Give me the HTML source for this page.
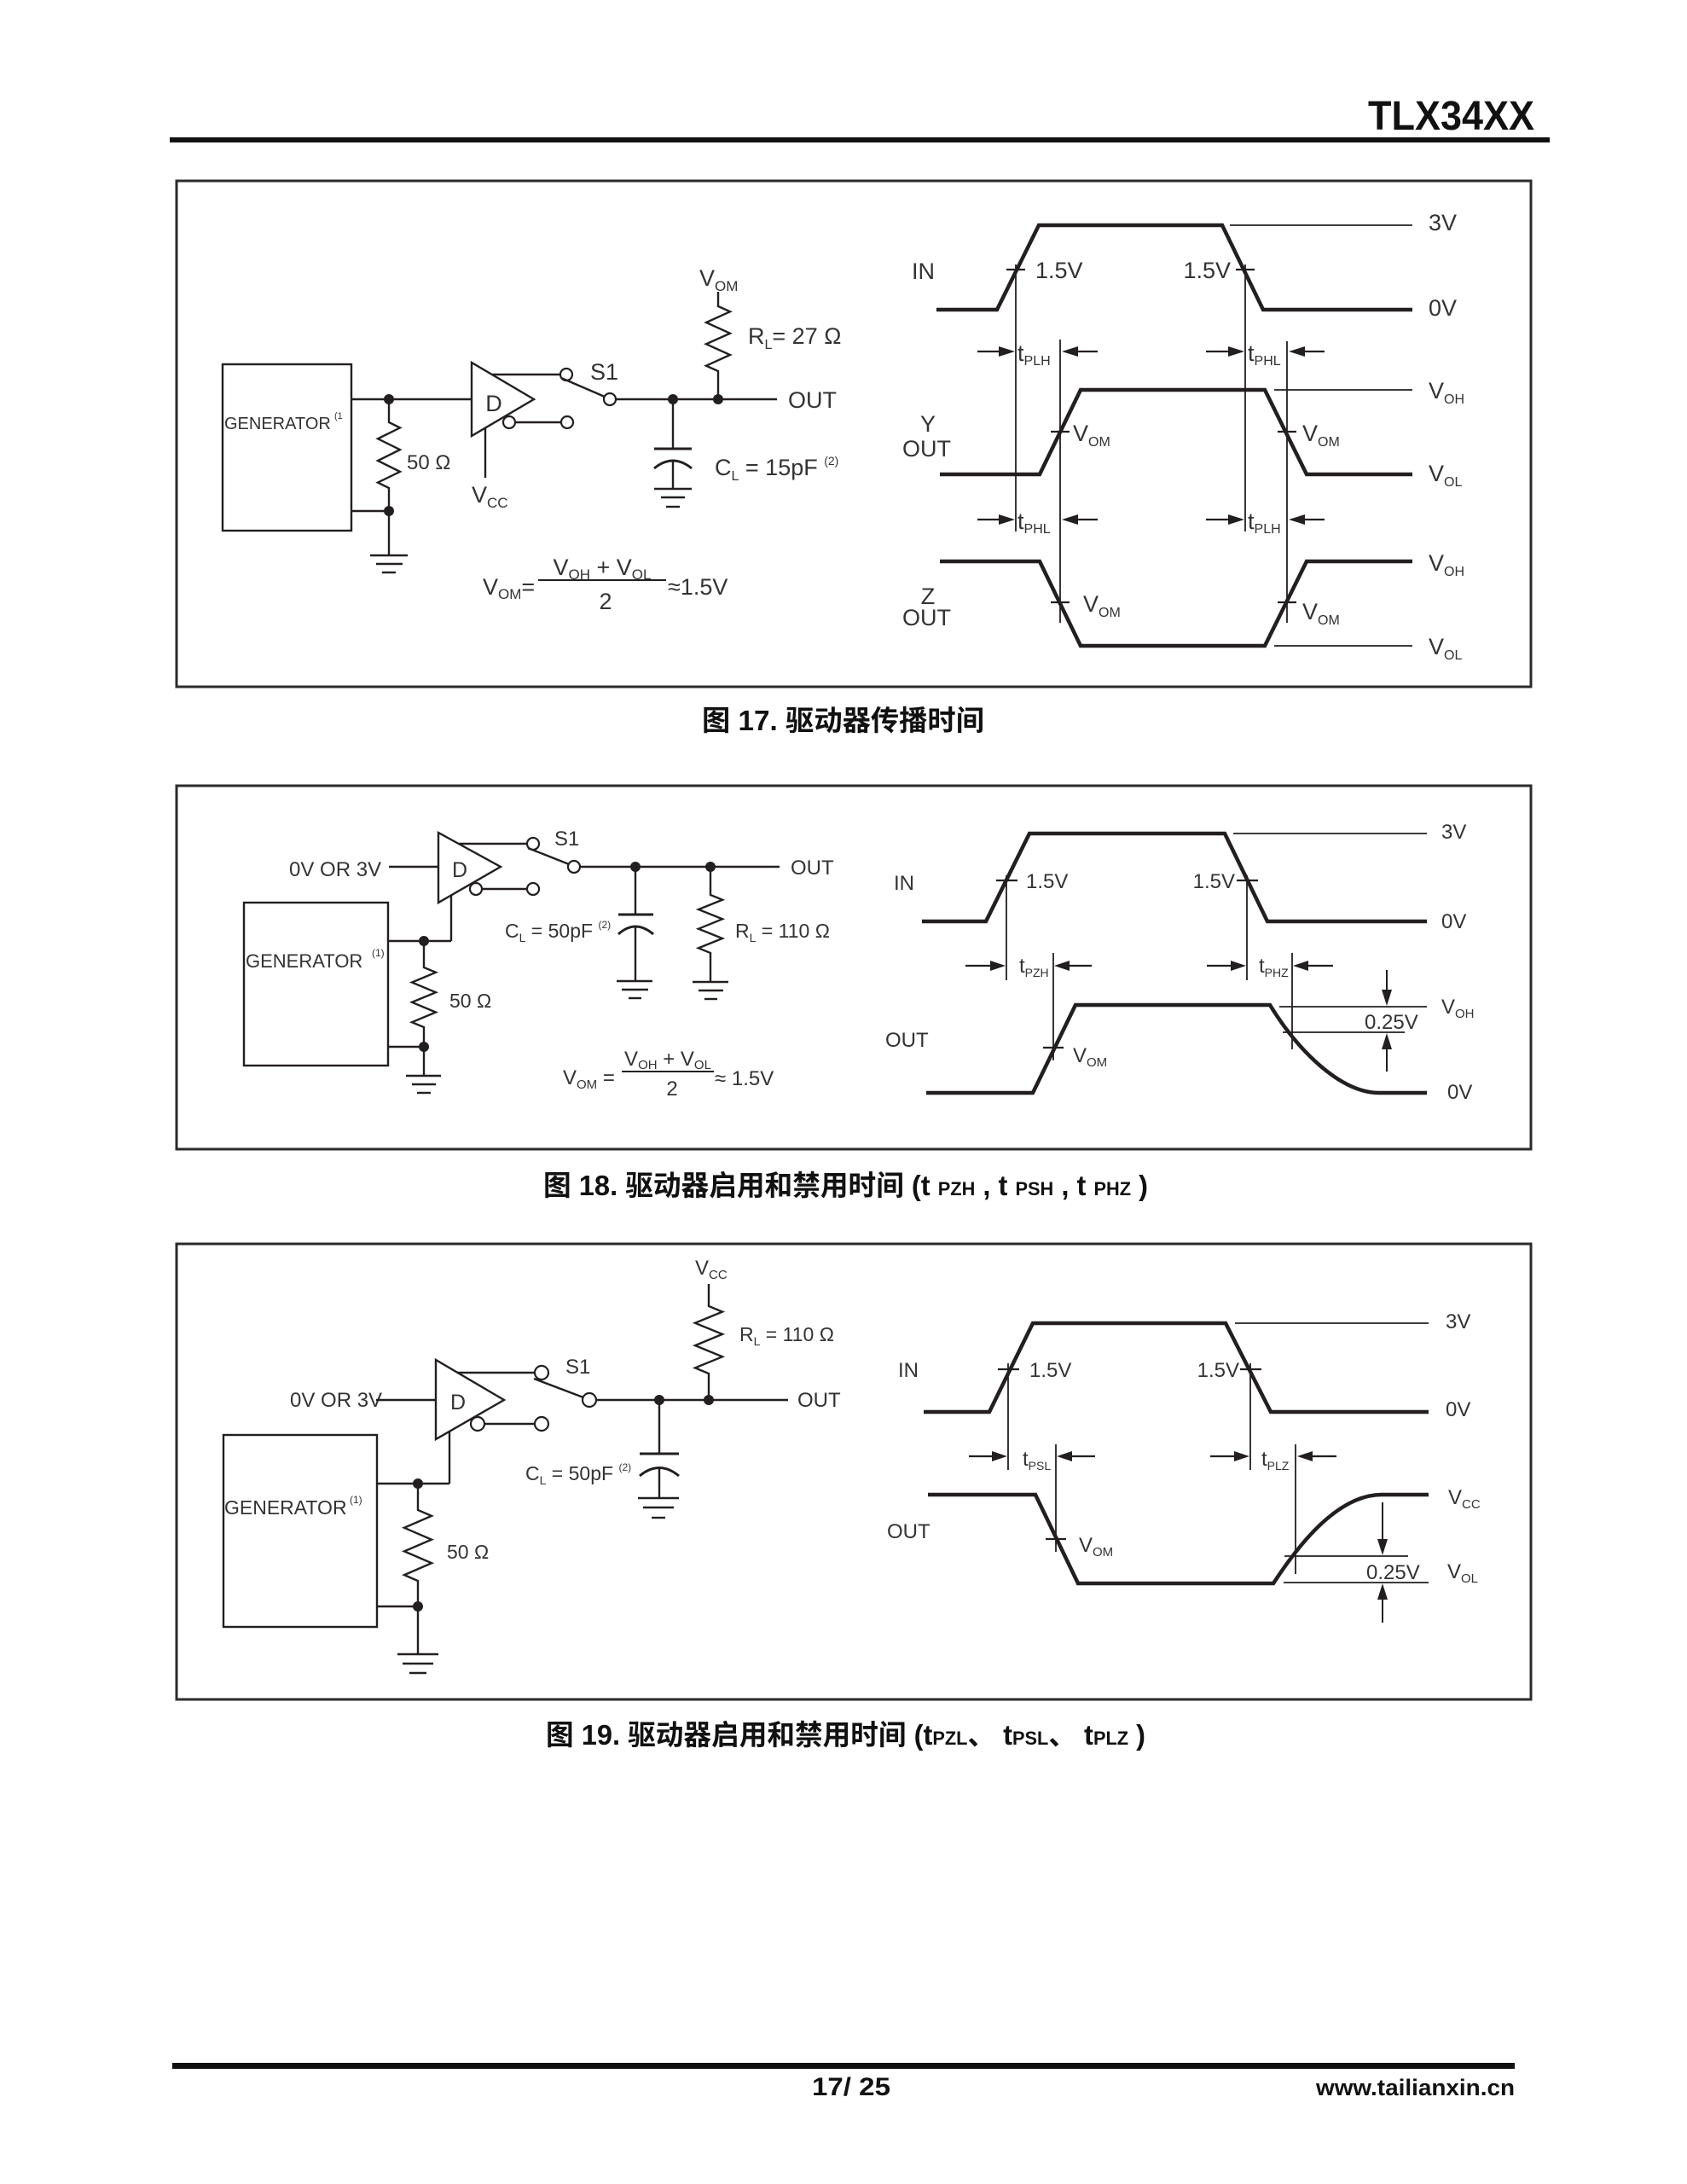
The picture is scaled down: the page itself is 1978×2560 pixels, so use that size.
<!DOCTYPE html>
<html>
<head>
<meta charset="utf-8">
<style>
html,body{margin:0;padding:0;background:#fff;}
svg{display:block;}
.t{font-family:"Liberation Sans","Noto Sans CJK SC",sans-serif;fill:#333;}
.w{stroke:#231f20;stroke-width:2.4;fill:none;}
.th{stroke:#231f20;stroke-width:1.8;fill:none;}
.wv{stroke:#231f20;stroke-width:4.5;fill:none;stroke-linejoin:miter;}
.fr{stroke:#2d2a2b;stroke-width:3;fill:none;}
.dot{fill:#231f20;}
.ah{fill:#231f20;}
.oc{stroke:#231f20;stroke-width:2.2;fill:#fff;}
.cap{font-family:"Liberation Sans","Noto Sans CJK SC",sans-serif;font-weight:bold;fill:#111;}
</style>
</head>
<body>
<svg width="1978" height="2560" viewBox="0 0 1978 2560" xmlns="http://www.w3.org/2000/svg">
<rect x="0" y="0" width="1978" height="2560" fill="#fff"/>

<!-- HEADER -->
<text x="1604" y="152" class="t" style="font-weight:bold;fill:#111" font-size="48" textLength="195" lengthAdjust="spacingAndGlyphs">TLX34XX</text>
<rect x="199" y="161" width="1618" height="6" fill="#111"/>

<!-- ================= FIGURE 17 ================= -->
<rect x="207" y="212" width="1588" height="593" class="fr"/>

<!-- generator -->
<rect x="261" y="427" width="151" height="195" class="w"/>
<text x="263" y="503" class="t" font-size="20">GENERATOR</text>
<text x="392" y="491" class="t" font-size="11">(1</text>
<line x1="412" y1="468" x2="553" y2="468" class="w"/>
<circle cx="456" cy="468" r="6" class="dot"/>
<polyline points="456,468 456,495 469,501.4 443,514.3 469,527.1 443,540 469,552.9 443,565.6 456,572 456,599" class="w"/>
<line x1="412" y1="599" x2="456" y2="599" class="w"/>
<circle cx="456" cy="599" r="6" class="dot"/>
<line x1="456" y1="599" x2="456" y2="651" class="w"/>
<line x1="434" y1="651" x2="478" y2="651" class="w"/>
<line x1="441" y1="661" x2="472" y2="661" class="w"/>
<line x1="448" y1="671" x2="464" y2="671" class="w"/>
<text x="477" y="550" class="t" font-size="24">50 Ω</text>

<!-- driver -->
<polygon points="553,425 553,511 626,468" class="w" style="fill:#fff"/>
<text x="579" y="482" class="t" font-size="27" text-anchor="middle">D</text>
<line x1="577" y1="439" x2="657" y2="439" class="w"/>
<circle cx="664" cy="439" r="7" class="oc"/>
<line x1="604" y1="495" x2="658" y2="495" class="w"/>
<circle cx="597" cy="495" r="7" class="oc"/>
<circle cx="665" cy="495" r="7" class="oc"/>
<line x1="569" y1="502" x2="569" y2="560" class="w"/>
<text x="553" y="589" class="t" font-size="27">V<tspan font-size="17" dy="6">CC</tspan></text>

<!-- switch -->
<line x1="658" y1="443" x2="709" y2="465" class="w"/>
<circle cx="715" cy="468" r="7" class="oc"/>
<text x="692" y="445" class="t" font-size="27">S1</text>
<line x1="722" y1="468" x2="911" y2="468" class="w"/>
<circle cx="789" cy="468" r="6" class="dot"/>
<circle cx="842" cy="468" r="6" class="dot"/>
<text x="924" y="478" class="t" font-size="27">OUT</text>

<!-- capacitor -->
<line x1="789" y1="468" x2="789" y2="526" class="w"/>
<line x1="767" y1="526" x2="811" y2="526" class="w" style="stroke-width:3"/>
<path d="M767,549 Q789,531 811,549" class="w" style="stroke-width:3"/>
<line x1="789" y1="540" x2="789" y2="573" class="w"/>
<line x1="767" y1="573" x2="811" y2="573" class="w"/>
<line x1="775" y1="583" x2="803" y2="583" class="w"/>
<line x1="781" y1="594" x2="797" y2="594" class="w"/>
<text x="838" y="557" class="t" font-size="27">C<tspan font-size="16" dy="6">L</tspan><tspan dy="-6"> = 15pF </tspan><tspan font-size="14" dy="-12">(2)</tspan></text>

<!-- RL -->
<text x="820" y="335" class="t" font-size="27">V<tspan font-size="17" dy="6">OM</tspan></text>
<polyline points="842,342 842,359 856,365.3 828,378 856,390.7 828,403.3 856,416 828,428.7 842,435 842,468" class="w"/>
<text x="877" y="403" class="t" font-size="27">R<tspan font-size="16" dy="6">L</tspan><tspan dy="-6">= 27 Ω</tspan></text>

<!-- formula -->
<text x="566" y="697" class="t" font-size="27">V<tspan font-size="17" dy="5">OM</tspan><tspan dy="-5">=</tspan></text>
<line x1="631" y1="680" x2="781" y2="680" class="w" style="stroke-width:2"/>
<text x="706" y="674" class="t" font-size="27" text-anchor="middle">V<tspan font-size="17" dy="5">OH</tspan><tspan dy="-5"> + V</tspan><tspan font-size="17" dy="5">OL</tspan></text>
<text x="710" y="714" class="t" font-size="27" text-anchor="middle">2</text>
<text x="783" y="697" class="t" font-size="27">≈1.5V</text>

<!-- waveforms fig 17 -->
<polyline points="1098,363 1169,363 1218,264 1433,264 1481,363 1656,363" class="wv"/>
<line x1="1442" y1="264" x2="1656" y2="264" class="th"/>
<text x="1675" y="270" class="t" font-size="27">3V</text>
<text x="1675" y="370" class="t" font-size="27">0V</text>
<text x="1069" y="327" class="t" font-size="27">IN</text>
<line x1="1180" y1="316" x2="1202" y2="316" class="th" style="stroke-width:2.2"/>
<line x1="1449" y1="316" x2="1471" y2="316" class="th" style="stroke-width:2.2"/>
<text x="1214" y="326" class="t" font-size="27">1.5V</text>
<text x="1443" y="326" class="t" font-size="27" text-anchor="end">1.5V</text>
<line x1="1191" y1="310" x2="1191" y2="623" class="th"/>
<line x1="1460" y1="310" x2="1460" y2="623" class="th"/>
<line x1="1243" y1="398" x2="1243" y2="730" class="th"/>
<line x1="1509" y1="400" x2="1509" y2="730" class="th"/>

<!-- arrows row 412 -->
<line x1="1146" y1="412" x2="1175" y2="412" class="th" style="stroke-width:2.2"/>
<polygon points="1171,406 1190,412 1171,418" class="ah"/>
<line x1="1287" y1="412" x2="1260" y2="412" class="th" style="stroke-width:2.2"/>
<polygon points="1264,406 1245,412 1264,418" class="ah"/>
<line x1="1414" y1="412" x2="1444" y2="412" class="th" style="stroke-width:2.2"/>
<polygon points="1440,406 1459,412 1440,418" class="ah"/>
<line x1="1553" y1="412" x2="1526" y2="412" class="th" style="stroke-width:2.2"/>
<polygon points="1530,406 1511,412 1530,418" class="ah"/>
<text x="1193" y="423" class="t" font-size="27">t<tspan font-size="16" dy="5">PLH</tspan></text>
<text x="1463" y="423" class="t" font-size="27">t<tspan font-size="16" dy="5">PHL</tspan></text>

<!-- Y OUT -->
<polyline points="1102,556 1219,556 1267,457 1483,457 1532,556 1656,556" class="wv"/>
<line x1="1494" y1="457" x2="1656" y2="457" class="th"/>
<line x1="1232" y1="506" x2="1254" y2="506" class="th" style="stroke-width:2.2"/>
<line x1="1498" y1="506" x2="1520" y2="506" class="th" style="stroke-width:2.2"/>
<text x="1258" y="517" class="t" font-size="27">V<tspan font-size="16" dy="6">OM</tspan></text>
<text x="1527" y="517" class="t" font-size="27">V<tspan font-size="16" dy="6">OM</tspan></text>
<text x="1088" y="506" class="t" font-size="27" text-anchor="middle">Y</text>
<text x="1058" y="535" class="t" font-size="27">OUT</text>
<text x="1675" y="467" class="t" font-size="27">V<tspan font-size="16" dy="6">OH</tspan></text>
<text x="1675" y="564" class="t" font-size="27">V<tspan font-size="16" dy="6">OL</tspan></text>

<!-- arrows row 609 -->
<line x1="1146" y1="609" x2="1175" y2="609" class="th" style="stroke-width:2.2"/>
<polygon points="1171,603 1190,609 1171,615" class="ah"/>
<line x1="1287" y1="609" x2="1260" y2="609" class="th" style="stroke-width:2.2"/>
<polygon points="1264,603 1245,609 1264,615" class="ah"/>
<line x1="1414" y1="609" x2="1444" y2="609" class="th" style="stroke-width:2.2"/>
<polygon points="1440,603 1459,609 1440,615" class="ah"/>
<line x1="1553" y1="609" x2="1526" y2="609" class="th" style="stroke-width:2.2"/>
<polygon points="1530,603 1511,609 1530,615" class="ah"/>
<text x="1193" y="620" class="t" font-size="27">t<tspan font-size="16" dy="5">PHL</tspan></text>
<text x="1463" y="620" class="t" font-size="27">t<tspan font-size="16" dy="5">PLH</tspan></text>

<!-- Z OUT -->
<polyline points="1102,658 1219,658 1267,757 1483,757 1532,658 1656,658" class="wv"/>
<line x1="1494" y1="757" x2="1656" y2="757" class="th"/>
<line x1="1232" y1="706" x2="1254" y2="706" class="th" style="stroke-width:2.2"/>
<line x1="1498" y1="706" x2="1520" y2="706" class="th" style="stroke-width:2.2"/>
<text x="1270" y="717" class="t" font-size="27">V<tspan font-size="16" dy="6">OM</tspan></text>
<text x="1527" y="726" class="t" font-size="27">V<tspan font-size="16" dy="6">OM</tspan></text>
<text x="1088" y="708" class="t" font-size="27" text-anchor="middle">Z</text>
<text x="1058" y="733" class="t" font-size="27">OUT</text>
<text x="1675" y="669" class="t" font-size="27">V<tspan font-size="16" dy="6">OH</tspan></text>
<text x="1675" y="767" class="t" font-size="27">V<tspan font-size="16" dy="6">OL</tspan></text>

<text x="823" y="856" class="cap" font-size="33" textLength="331" lengthAdjust="spacingAndGlyphs">图 17. 驱动器传播时间</text>

<!-- ================= FIGURE 18 ================= -->
<rect x="207" y="921" width="1588" height="426" class="fr"/>

<text x="339" y="1027" class="t" font-size="24">0V OR 3V</text>
<line x1="456" y1="1016" x2="514" y2="1016" class="w"/>
<polygon points="514,976 514,1058 587,1016" class="w" style="fill:#fff"/>
<text x="539" y="1028" class="t" font-size="25" text-anchor="middle">D</text>
<line x1="538" y1="989" x2="618" y2="989" class="w"/>
<circle cx="625" cy="989" r="7" class="oc"/>
<line x1="565" y1="1042" x2="618" y2="1042" class="w"/>
<circle cx="558" cy="1042" r="7" class="oc"/>
<circle cx="625" cy="1042" r="7" class="oc"/>
<line x1="619" y1="994" x2="667" y2="1013" class="w"/>
<circle cx="673" cy="1016" r="7" class="oc"/>
<text x="650" y="991" class="t" font-size="24">S1</text>
<line x1="680" y1="1016" x2="914" y2="1016" class="w"/>
<circle cx="745" cy="1016" r="6" class="dot"/>
<circle cx="833" cy="1016" r="6" class="dot"/>
<text x="927" y="1025" class="t" font-size="24">OUT</text>

<line x1="745" y1="1016" x2="745" y2="1072" class="w"/>
<line x1="725" y1="1072" x2="766" y2="1072" class="w" style="stroke-width:3"/>
<path d="M725,1095 Q745,1077 766,1095" class="w" style="stroke-width:3"/>
<line x1="745" y1="1086" x2="745" y2="1150" class="w"/>
<line x1="723" y1="1150" x2="765" y2="1150" class="w"/>
<line x1="729" y1="1160" x2="760" y2="1160" class="w"/>
<line x1="737" y1="1170" x2="752" y2="1170" class="w"/>
<text x="592" y="1099" class="t" font-size="23">C<tspan font-size="14" dy="5">L</tspan><tspan dy="-5"> = 50pF </tspan><tspan font-size="12" dy="-11">(2)</tspan></text>

<polyline points="833,1016 833,1049 847,1054.7 819,1066 847,1077.3 819,1088.7 847,1100 819,1111.3 833,1117 833,1151" class="w"/>
<line x1="812" y1="1151" x2="854" y2="1151" class="w"/>
<line x1="819" y1="1161" x2="848" y2="1161" class="w"/>
<line x1="826" y1="1171" x2="841" y2="1171" class="w"/>
<text x="862" y="1099" class="t" font-size="23">R<tspan font-size="14" dy="5">L</tspan><tspan dy="-5"> = 110 Ω</tspan></text>

<rect x="286" y="1058" width="169" height="191" class="w"/>
<text x="288" y="1134" class="t" font-size="22">GENERATOR</text>
<text x="436" y="1121" class="t" font-size="12">(1)</text>
<line x1="455" y1="1103" x2="529" y2="1103" class="w"/>
<line x1="529" y1="1103" x2="529" y2="1049" class="w"/>
<circle cx="497" cy="1103" r="6" class="dot"/>
<polyline points="497,1103 497,1134 511,1139.8 483,1151.5 511,1163.2 483,1174.8 511,1186.5 483,1198.2 497,1204 497,1227" class="w"/>
<text x="527" y="1181" class="t" font-size="23">50 Ω</text>
<line x1="455" y1="1227" x2="497" y2="1227" class="w"/>
<circle cx="497" cy="1227" r="6" class="dot"/>
<line x1="497" y1="1227" x2="497" y2="1261" class="w"/>
<line x1="476" y1="1261" x2="517" y2="1261" class="w"/>
<line x1="483" y1="1271" x2="511" y2="1271" class="w"/>
<line x1="489" y1="1281" x2="505" y2="1281" class="w"/>

<text x="660" y="1271" class="t" font-size="24">V<tspan font-size="15" dy="5">OM</tspan><tspan dy="-5"> =</tspan></text>
<line x1="729" y1="1256" x2="837" y2="1256" class="w" style="stroke-width:2"/>
<text x="783" y="1249" class="t" font-size="24" text-anchor="middle">V<tspan font-size="15" dy="4">OH</tspan><tspan dy="-4"> + V</tspan><tspan font-size="15" dy="4">OL</tspan></text>
<text x="788" y="1284" class="t" font-size="24" text-anchor="middle">2</text>
<text x="838" y="1272" class="t" font-size="24">≈ 1.5V</text>

<!-- waveforms fig 18 -->
<polyline points="1081,1080 1156,1080 1207,977 1436,977 1486,1080 1673,1080" class="wv"/>
<line x1="1446" y1="977" x2="1673" y2="977" class="th"/>
<text x="1690" y="983" class="t" font-size="24">3V</text>
<text x="1690" y="1088" class="t" font-size="24">0V</text>
<text x="1048" y="1043" class="t" font-size="24">IN</text>
<line x1="1168" y1="1032" x2="1193" y2="1032" class="th" style="stroke-width:2.2"/>
<line x1="1450" y1="1032" x2="1475" y2="1032" class="th" style="stroke-width:2.2"/>
<text x="1203" y="1041" class="t" font-size="24">1.5V</text>
<text x="1448" y="1041" class="t" font-size="24" text-anchor="end">1.5V</text>
<line x1="1180" y1="1026" x2="1180" y2="1149" class="th"/>
<line x1="1462" y1="1026" x2="1462" y2="1149" class="th"/>
<line x1="1235" y1="1117" x2="1235" y2="1243" class="th"/>
<line x1="1515" y1="1117" x2="1515" y2="1230" class="th"/>

<line x1="1132" y1="1132" x2="1164" y2="1132" class="th" style="stroke-width:2.2"/>
<polygon points="1161,1126 1179,1132 1161,1138" class="ah"/>
<line x1="1280" y1="1132" x2="1250" y2="1132" class="th" style="stroke-width:2.2"/>
<polygon points="1254,1126 1236,1132 1254,1138" class="ah"/>
<line x1="1415" y1="1132" x2="1446" y2="1132" class="th" style="stroke-width:2.2"/>
<polygon points="1443,1126 1461,1132 1443,1138" class="ah"/>
<line x1="1563" y1="1132" x2="1531" y2="1132" class="th" style="stroke-width:2.2"/>
<polygon points="1534,1126 1516,1132 1534,1138" class="ah"/>
<text x="1195" y="1140" class="t" font-size="24">t<tspan font-size="14" dy="5">PZH</tspan></text>
<text x="1476" y="1140" class="t" font-size="24">t<tspan font-size="14" dy="5">PHZ</tspan></text>

<path d="M1086,1281 L1211,1281 L1261,1178 L1489,1178 C1522,1232 1572,1281 1617,1281 L1673,1281" class="wv"/>
<line x1="1223" y1="1228" x2="1247" y2="1228" class="th" style="stroke-width:2.2"/>
<text x="1258" y="1245" class="t" font-size="24">V<tspan font-size="15" dy="5">OM</tspan></text>
<line x1="1500" y1="1180" x2="1673" y2="1180" class="th"/>
<line x1="1504" y1="1210" x2="1647" y2="1210" class="th"/>
<text x="1600" y="1206" class="t" font-size="24">0.25V</text>
<line x1="1626" y1="1137" x2="1626" y2="1163" class="th" style="stroke-width:2"/>
<polygon points="1620,1160 1626,1179 1632,1160" class="ah"/>
<line x1="1626" y1="1256" x2="1626" y2="1228" class="th" style="stroke-width:2"/>
<polygon points="1620,1230 1626,1211 1632,1230" class="ah"/>
<text x="1690" y="1188" class="t" font-size="24">V<tspan font-size="15" dy="5">OH</tspan></text>
<text x="1697" y="1288" class="t" font-size="24">0V</text>
<text x="1038" y="1227" class="t" font-size="24">OUT</text>

<text x="637" y="1401" class="cap" font-size="33" textLength="709" lengthAdjust="spacingAndGlyphs">图 18. 驱动器启用和禁用时间 (t <tspan font-size="22">PZH</tspan> , t <tspan font-size="22">PSH</tspan> , t <tspan font-size="22">PHZ</tspan> )</text>

<!-- ================= FIGURE 19 ================= -->
<rect x="207" y="1458" width="1588" height="534" class="fr"/>

<text x="815" y="1494" class="t" font-size="24">V<tspan font-size="15" dy="5">CC</tspan></text>
<polyline points="831,1505 831,1531 847,1537.6 815,1550.8 847,1563.9 815,1577.1 847,1590.3 815,1603.4 831,1610 831,1641" class="w"/>
<text x="867" y="1572" class="t" font-size="23">R<tspan font-size="14" dy="5">L</tspan><tspan dy="-5"> = 110 Ω</tspan></text>
<line x1="699" y1="1641" x2="924" y2="1641" class="w"/>
<circle cx="773" cy="1641" r="6" class="dot"/>
<circle cx="831" cy="1641" r="6" class="dot"/>
<text x="935" y="1649" class="t" font-size="24">OUT</text>
<line x1="626" y1="1616" x2="684" y2="1638" class="w"/>
<circle cx="691" cy="1641" r="8" class="oc"/>
<text x="663" y="1610" class="t" font-size="24">S1</text>

<text x="340" y="1649" class="t" font-size="24">0V OR 3V</text>
<line x1="441" y1="1641" x2="511" y2="1641" class="w"/>
<polygon points="511,1594 511,1687 591,1641" class="w" style="fill:#fff"/>
<text x="537" y="1652" class="t" font-size="25" text-anchor="middle">D</text>
<line x1="537" y1="1609" x2="627" y2="1609" class="w"/>
<circle cx="635" cy="1609" r="8" class="oc"/>
<line x1="568" y1="1669" x2="627" y2="1669" class="w"/>
<circle cx="560" cy="1669" r="8" class="oc"/>
<circle cx="635" cy="1669" r="8" class="oc"/>

<line x1="773" y1="1641" x2="773" y2="1704" class="w"/>
<line x1="750" y1="1704" x2="796" y2="1704" class="w" style="stroke-width:3"/>
<path d="M750,1730 Q773,1711 796,1730" class="w" style="stroke-width:3"/>
<line x1="773" y1="1721" x2="773" y2="1756" class="w"/>
<line x1="748" y1="1756" x2="796" y2="1756" class="w"/>
<line x1="754" y1="1767" x2="790" y2="1767" class="w"/>
<line x1="764" y1="1779" x2="780" y2="1779" class="w"/>
<text x="616" y="1735" class="t" font-size="23">C<tspan font-size="14" dy="5">L</tspan><tspan dy="-5"> = 50pF </tspan><tspan font-size="12" dy="-11">(2)</tspan></text>

<rect x="262" y="1682" width="180" height="225" class="w"/>
<text x="263" y="1775" class="t" font-size="23">GENERATOR</text>
<text x="410" y="1762" class="t" font-size="12">(1)</text>
<line x1="442" y1="1739" x2="527" y2="1739" class="w"/>
<line x1="527" y1="1739" x2="527" y2="1678" class="w"/>
<circle cx="490" cy="1739" r="6" class="dot"/>
<polyline points="490,1739 490,1770 506,1776.9 474,1790.8 506,1804.6 474,1818.4 506,1832.2 474,1846.1 490,1853 490,1883" class="w"/>
<text x="524" y="1827" class="t" font-size="23">50 Ω</text>
<line x1="442" y1="1883" x2="490" y2="1883" class="w"/>
<circle cx="490" cy="1883" r="6" class="dot"/>
<line x1="490" y1="1883" x2="490" y2="1939" class="w"/>
<line x1="466" y1="1939" x2="514" y2="1939" class="w"/>
<line x1="472" y1="1950" x2="508" y2="1950" class="w"/>
<line x1="480" y1="1961" x2="500" y2="1961" class="w"/>

<!-- waveforms fig 19 -->
<polyline points="1083,1655 1160,1655 1211,1551 1437,1551 1490,1655 1675,1655" class="wv"/>
<line x1="1448" y1="1551" x2="1675" y2="1551" class="th"/>
<text x="1695" y="1557" class="t" font-size="24">3V</text>
<text x="1695" y="1660" class="t" font-size="24">0V</text>
<text x="1053" y="1614" class="t" font-size="24">IN</text>
<line x1="1170" y1="1605" x2="1195" y2="1605" class="th" style="stroke-width:2.2"/>
<line x1="1454" y1="1605" x2="1479" y2="1605" class="th" style="stroke-width:2.2"/>
<text x="1207" y="1614" class="t" font-size="24">1.5V</text>
<text x="1453" y="1614" class="t" font-size="24" text-anchor="end">1.5V</text>
<line x1="1182" y1="1598" x2="1182" y2="1723" class="th"/>
<line x1="1466" y1="1598" x2="1466" y2="1723" class="th"/>
<line x1="1238" y1="1693" x2="1238" y2="1819" class="th"/>
<line x1="1519" y1="1693" x2="1519" y2="1845" class="th"/>

<line x1="1136" y1="1707" x2="1166" y2="1707" class="th" style="stroke-width:2.2"/>
<polygon points="1163,1701 1181,1707 1163,1713" class="ah"/>
<line x1="1284" y1="1707" x2="1254" y2="1707" class="th" style="stroke-width:2.2"/>
<polygon points="1257,1701 1239,1707 1257,1713" class="ah"/>
<line x1="1419" y1="1707" x2="1450" y2="1707" class="th" style="stroke-width:2.2"/>
<polygon points="1447,1701 1465,1707 1447,1713" class="ah"/>
<line x1="1567" y1="1707" x2="1536" y2="1707" class="th" style="stroke-width:2.2"/>
<polygon points="1539,1701 1521,1707 1539,1713" class="ah"/>
<text x="1199" y="1718" class="t" font-size="24">t<tspan font-size="14" dy="5">PSL</tspan></text>
<text x="1479" y="1718" class="t" font-size="24">t<tspan font-size="14" dy="5">PLZ</tspan></text>

<path d="M1088,1752 L1214,1752 L1264,1856 L1493,1856 C1528,1802 1572,1752 1620,1752 L1675,1752" class="wv"/>
<line x1="1226" y1="1804" x2="1250" y2="1804" class="th" style="stroke-width:2.2"/>
<text x="1265" y="1819" class="t" font-size="24">V<tspan font-size="15" dy="5">OM</tspan></text>
<line x1="1506" y1="1824" x2="1651" y2="1824" class="th"/>
<line x1="1505" y1="1855" x2="1675" y2="1855" class="th"/>
<text x="1602" y="1851" class="t" font-size="24">0.25V</text>
<line x1="1621" y1="1761" x2="1621" y2="1806" class="th" style="stroke-width:2"/>
<polygon points="1615,1804 1621,1823 1627,1804" class="ah"/>
<line x1="1621" y1="1902" x2="1621" y2="1872" class="th" style="stroke-width:2"/>
<polygon points="1615,1875 1621,1856 1627,1875" class="ah"/>
<text x="1698" y="1763" class="t" font-size="24">V<tspan font-size="15" dy="5">CC</tspan></text>
<text x="1697" y="1850" class="t" font-size="24">V<tspan font-size="15" dy="5">OL</tspan></text>
<text x="1040" y="1803" class="t" font-size="24">OUT</text>

<text x="640" y="2045" class="cap" font-size="33" textLength="703" lengthAdjust="spacingAndGlyphs">图 19. 驱动器启用和禁用时间 (t<tspan font-size="22">PZL</tspan>、 t<tspan font-size="22">PSL</tspan>、 t<tspan font-size="22">PLZ</tspan> )</text>

<!-- FOOTER -->
<rect x="202" y="2418" width="1574" height="7" fill="#111"/>
<text x="952" y="2456" class="t" style="font-weight:bold;fill:#111" font-size="30" textLength="92" lengthAdjust="spacingAndGlyphs">17/ 25</text>
<text x="1543" y="2456" class="t" style="font-weight:bold;fill:#111" font-size="27" textLength="233" lengthAdjust="spacingAndGlyphs">www.tailianxin.cn</text>
</svg>
</body>
</html>
